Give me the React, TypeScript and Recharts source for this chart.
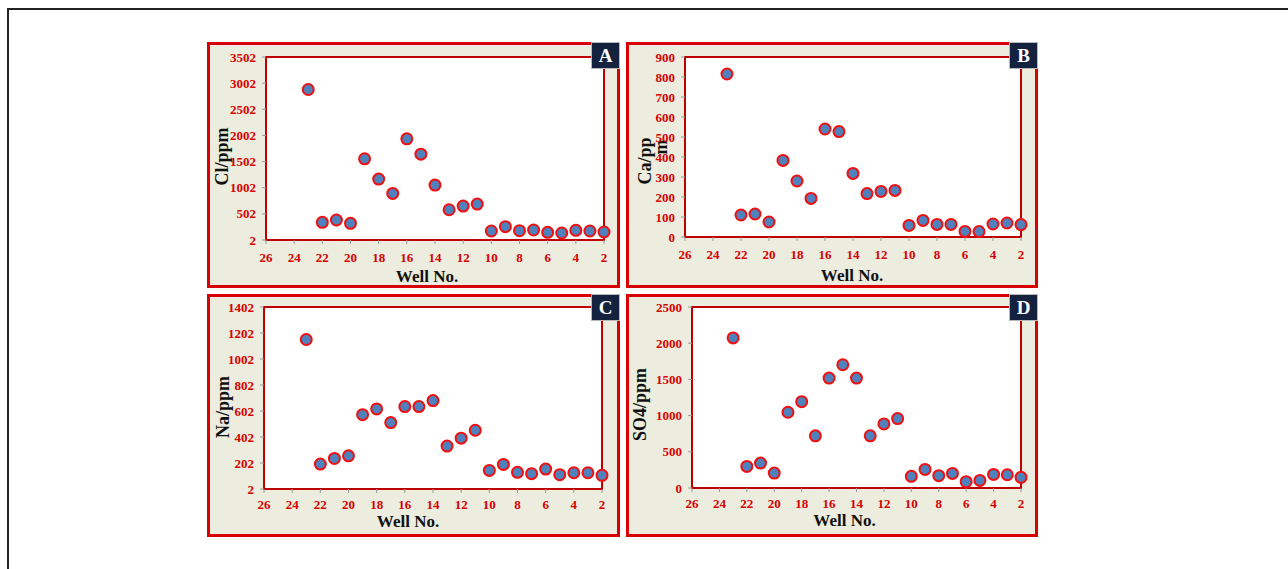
import { ScatterChart, Scatter, XAxis, YAxis, CartesianGrid, ReferenceArea, Label } from "recharts";

const wells = [23, 22, 21, 20, 19, 18, 17, 16, 15, 14, 13, 12, 11, 10, 9, 8, 7, 6, 5, 4, 3, 2];
const xTicks = [26, 24, 22, 20, 18, 16, 14, 12, 10, 8, 6, 4, 2];

const cl = [2880, 340, 384, 320, 1555, 1167, 893, 1937, 1644, 1052, 581, 651, 689, 174, 257, 180, 193, 148, 136, 187, 174, 155];
const ca = [815, 110, 115, 75, 383, 280, 193, 540, 527, 318, 217, 228, 233, 58, 83, 63, 63, 28, 27, 65, 70, 62];
const na = [1152, 194, 237, 257, 574, 618, 513, 636, 636, 682, 332, 393, 454, 145, 191, 130, 120, 155, 112, 127, 127, 107];
const so4 = [2073, 298, 344, 206, 1046, 1193, 720, 1518, 1702, 1518, 720, 885, 959, 161, 257, 170, 202, 87, 105, 188, 183, 147];

const clTicks = [2, 502, 1002, 1502, 2002, 2502, 3002, 3502];
const caTicks = [0, 100, 200, 300, 400, 500, 600, 700, 800, 900];
const naTicks = [2, 202, 402, 602, 802, 1002, 1202, 1402];
const so4Ticks = [0, 500, 1000, 1500, 2000, 2500];

const RED = "#d80000";
const FONT = "'Liberation Serif', 'Times New Roman', serif";

const dot = (p: any) => (
  <circle cx={p.cx} cy={p.cy} r={5.5} fill="#4f81bd" stroke="#f01010" strokeWidth={2} />
);

type PanelProps = {
  badge: string;
  values: number[];
  ticks: number[];
  yLines: string[];
  box: { left: number; top: number; w: number; h: number };
  plot: { left: number; top: number; right: number; xh: number };
  ylab: { dx: number; dy: number; gap?: number };
  xlab: { dx: number; dy: number };
  tm?: number;
};

function Panel({ badge, values, ticks, yLines, box, plot, ylab, xlab, tm = 9 }: PanelProps) {
  const data = wells.map((w, i) => ({ well: w, v: values[i] }));
  const iw = box.w - 6;
  const ih = box.h - 6;
  const yMin = ticks[0];
  const yMax = ticks[ticks.length - 1];
  return (
    <div
      style={{
        position: "absolute", left: box.left, top: box.top, width: box.w, height: box.h,
        boxSizing: "border-box", border: `3px solid ${RED}`, background: "#ecedde",
      }}
    >
      <ScatterChart width={iw} height={ih} margin={{ top: plot.top, right: plot.right, bottom: 0, left: 0 }}>
        <CartesianGrid horizontal={false} vertical={false} fill="#ffffff" />
        <ReferenceArea x1={2} x2={26} y1={yMin} y2={yMax} fill="#ffffff" fillOpacity={1} stroke="#c00000" strokeWidth={2} />
        <XAxis
          type="number" dataKey="well" domain={[2, 26]} reversed ticks={xTicks} interval={0}
          height={plot.xh} axisLine={false} tickSize={4} tickMargin={tm}
          tickLine={{ stroke: "#999" }}
          tick={{ fill: RED, fontSize: 13, fontWeight: "bold", fontFamily: FONT }}
        >
          <Label
            content={(lp: any) => {
              const vb = lp.viewBox;
              return (
                <text x={vb.x + vb.width / 2 + xlab.dx} y={vb.y + xlab.dy} textAnchor="middle" dominantBaseline="central"
                  fontFamily={FONT} fontWeight="bold" fontSize={17} fill="#111">
                  Well No.
                </text>
              );
            }}
          />
        </XAxis>
        <YAxis
          type="number" dataKey="v" domain={[yMin, yMax]} ticks={ticks} interval={0}
          width={plot.left} axisLine={false} tickSize={4} tickMargin={6}
          tickLine={{ stroke: "#999" }}
          tick={{ fill: RED, fontSize: 13, fontWeight: "bold", fontFamily: FONT }}
        >
          <Label
            content={(lp: any) => {
              const vb = lp.viewBox;
              const x0 = vb.x + vb.width + ylab.dx;
              const cy = vb.y + vb.height / 2 + ylab.dy;
              return (
                <g>
                  {yLines.map((t, i) => (
                    <text key={t} x={x0 + i * (ylab.gap ?? 0)} y={cy - i * 14} textAnchor="middle" dominantBaseline="central"
                      transform={`rotate(-90, ${x0 + i * (ylab.gap ?? 0)}, ${cy - i * 14})`}
                      fontFamily={FONT} fontWeight="bold" fontSize={18} fill="#111">
                      {t}
                    </text>
                  ))}
                </g>
              );
            }}
          />
        </YAxis>
        <Scatter data={data} shape={dot} isAnimationActive={false} />
      </ScatterChart>
      <div
        style={{
          position: "absolute", right: -3, top: -3, width: 29, height: 27, background: "#14223f",
          border: "1px solid #b8b8b8", boxSizing: "border-box", color: "#fff", fontFamily: FONT,
          fontWeight: "bold", fontSize: 19, lineHeight: "25px", textAlign: "center",
        }}
      >
        {badge}
      </div>
    </div>
  );
}

export default function App() {
  return (
    <div style={{ position: "fixed", left: 0, top: 0, width: 1288, height: 569, background: "#fff", overflow: "hidden" }}>
      <div
        style={{
          position: "absolute", left: 7, top: 8, width: 1281, height: 561, boxSizing: "border-box",
          borderTop: "2px solid #222", borderLeft: "2px solid #222",
        }}
      />
      <Panel
        badge="A" values={cl} ticks={clTicks} yLines={["Cl/ppm"]}
        box={{ left: 207, top: 42, w: 413, h: 246 }}
        plot={{ left: 56, top: 12, right: 13, xh: 45 }}
        ylab={{ dx: -44, dy: 8 }} xlab={{ dx: -8, dy: 36 }}
      />
      <Panel
        badge="B" values={ca} ticks={caTicks} yLines={["Ca/pp", "m"]}
        box={{ left: 626, top: 42, w: 412, h: 246 }}
        plot={{ left: 56, top: 12, right: 14, xh: 48 }}
        ylab={{ dx: -40, dy: 14, gap: 16 }} xlab={{ dx: -1, dy: 38 }}
      />
      <Panel
        badge="C" values={na} ticks={naTicks} yLines={["Na/ppm"]}
        box={{ left: 207, top: 294, w: 413, h: 243 }}
        plot={{ left: 54, top: 10, right: 15, xh: 45 }}
        ylab={{ dx: -41, dy: 9 }} xlab={{ dx: -25, dy: 32 }} tm={7}
      />
      <Panel
        badge="D" values={so4} ticks={so4Ticks} yLines={["SO4/ppm"]}
        box={{ left: 626, top: 294, w: 412, h: 243 }}
        plot={{ left: 63, top: 10, right: 14, xh: 46 }}
        ylab={{ dx: -52, dy: 7 }} xlab={{ dx: -12, dy: 32 }} tm={7}
      />
    </div>
  );
}
